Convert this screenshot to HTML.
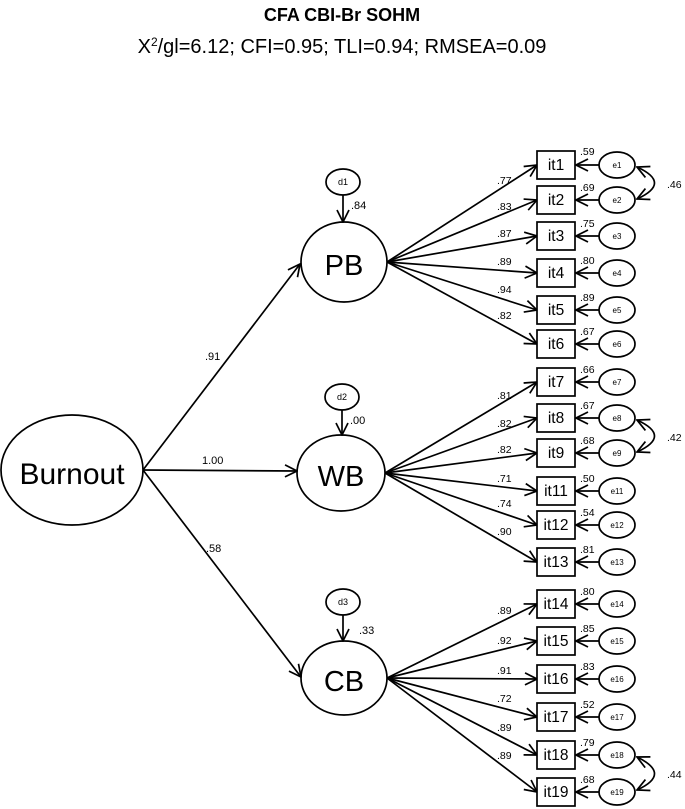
<!DOCTYPE html>
<html><head><meta charset="utf-8"><style>
html,body{margin:0;padding:0;background:#fff;}
svg{display:block;font-family:"Liberation Sans",Arial,sans-serif;}
</style></head><body>
<svg width="685" height="809" viewBox="0 0 685 809" xmlns="http://www.w3.org/2000/svg">
<defs>
<marker id="a" viewBox="0 0 14 14" refX="13" refY="7" markerWidth="14" markerHeight="14" markerUnits="userSpaceOnUse" orient="auto-start-reverse">
<path d="M1,1 L13,7 L1,13" fill="none" stroke="#000" stroke-width="1.7"/>
</marker>
</defs>
<text x="342" y="21" text-anchor="middle" font-size="18" font-weight="bold">CFA CBI-Br SOHM</text>
<text x="342" y="53" text-anchor="middle" font-size="20">X<tspan font-size="12" dy="-7">2</tspan><tspan dy="7">/gl=6.12; CFI=0.95; TLI=0.94; RMSEA=0.09</tspan></text>

<g fill="none" stroke="#000" stroke-width="1.7">
<ellipse cx="72" cy="470" rx="71" ry="55"/>
<ellipse cx="344" cy="262" rx="43" ry="40"/>
<ellipse cx="341" cy="473" rx="44" ry="38"/>
<ellipse cx="344" cy="678" rx="43" ry="37"/>
<ellipse cx="343" cy="182" rx="17" ry="13"/>
<ellipse cx="342" cy="397" rx="17" ry="13"/>
<ellipse cx="343" cy="602" rx="17" ry="13"/>
</g>
<g stroke="#000" stroke-width="1.7" fill="none" marker-end="url(#a)">
<line x1="143" y1="470" x2="300" y2="264"/>
<line x1="143" y1="470" x2="297" y2="471"/>
<line x1="143" y1="470" x2="301" y2="677"/>
<line x1="343" y1="195" x2="343" y2="222"/>
<line x1="342" y1="410" x2="342" y2="435"/>
<line x1="343" y1="615" x2="343" y2="641"/>
</g>
<g text-anchor="middle">
<text x="72" y="484" font-size="30">Burnout</text>
<text x="344" y="275" font-size="29">PB</text>
<text x="341" y="486" font-size="29">WB</text>
<text x="344" y="691" font-size="29">CB</text>
</g>
<g font-size="9" text-anchor="middle">
<text x="343" y="185">d1</text><text x="342" y="400">d2</text><text x="343" y="605">d3</text>
</g>
<g font-size="11">
<text x="351" y="209">.84</text><text x="350" y="424">.00</text><text x="359" y="634">.33</text>
<text x="205" y="360">.91</text><text x="202" y="464">1.00</text><text x="206" y="552">.58</text>
</g>

<g stroke="#000" stroke-width="1.7" fill="none" marker-end="url(#a)">
<line x1="387" y1="262" x2="537" y2="165"/><line x1="387" y1="262" x2="537" y2="200"/>
<line x1="387" y1="262" x2="537" y2="236"/><line x1="387" y1="262" x2="537" y2="273"/>
<line x1="387" y1="262" x2="537" y2="310"/><line x1="387" y1="262" x2="537" y2="344"/>
<line x1="385" y1="473" x2="537" y2="382"/><line x1="385" y1="473" x2="537" y2="418"/>
<line x1="385" y1="473" x2="537" y2="453"/><line x1="385" y1="473" x2="537" y2="491"/>
<line x1="385" y1="473" x2="537" y2="525"/><line x1="385" y1="473" x2="537" y2="562"/>
<line x1="387" y1="678" x2="537" y2="604"/><line x1="387" y1="678" x2="537" y2="641"/>
<line x1="387" y1="678" x2="537" y2="679"/><line x1="387" y1="678" x2="537" y2="717"/>
<line x1="387" y1="678" x2="537" y2="755"/><line x1="387" y1="678" x2="537" y2="792"/>
<line x1="599" y1="165" x2="576" y2="165"/><line x1="599" y1="200" x2="576" y2="200"/>
<line x1="599" y1="236" x2="576" y2="236"/><line x1="599" y1="273" x2="576" y2="273"/>
<line x1="599" y1="310" x2="576" y2="310"/><line x1="599" y1="344" x2="576" y2="344"/>
<line x1="599" y1="382" x2="576" y2="382"/><line x1="599" y1="418" x2="576" y2="418"/>
<line x1="599" y1="453" x2="576" y2="453"/><line x1="599" y1="491" x2="576" y2="491"/>
<line x1="599" y1="525" x2="576" y2="525"/><line x1="599" y1="562" x2="576" y2="562"/>
<line x1="599" y1="604" x2="576" y2="604"/><line x1="599" y1="641" x2="576" y2="641"/>
<line x1="599" y1="679" x2="576" y2="679"/><line x1="599" y1="717" x2="576" y2="717"/>
<line x1="599" y1="755" x2="576" y2="755"/><line x1="599" y1="792" x2="576" y2="792"/>
<path d="M637,167 Q672,183 637,199" marker-start="url(#a)"/>
<path d="M637,420 Q672,436 637,452" marker-start="url(#a)"/>
<path d="M637,757 Q672,774 637,790" marker-start="url(#a)"/>
</g>

<g fill="#fff" stroke="#000" stroke-width="1.7">
<rect x="537" y="151" width="38" height="28"/><rect x="537" y="186" width="38" height="28"/>
<rect x="537" y="222" width="38" height="28"/><rect x="537" y="259" width="38" height="28"/>
<rect x="537" y="296" width="38" height="28"/><rect x="537" y="330" width="38" height="28"/>
<rect x="537" y="368" width="38" height="28"/><rect x="537" y="404" width="38" height="28"/>
<rect x="537" y="439" width="38" height="28"/><rect x="537" y="477" width="38" height="28"/>
<rect x="537" y="511" width="38" height="28"/><rect x="537" y="548" width="38" height="28"/>
<rect x="537" y="590" width="38" height="28"/><rect x="537" y="627" width="38" height="28"/>
<rect x="537" y="665" width="38" height="28"/><rect x="537" y="703" width="38" height="28"/>
<rect x="537" y="741" width="38" height="28"/><rect x="537" y="778" width="38" height="28"/>
</g>
<g fill="none" stroke="#000" stroke-width="1.7">
<ellipse cx="617" cy="165" rx="18" ry="13"/><ellipse cx="617" cy="200" rx="18" ry="13"/>
<ellipse cx="617" cy="236" rx="18" ry="13"/><ellipse cx="617" cy="273" rx="18" ry="13"/>
<ellipse cx="617" cy="310" rx="18" ry="13"/><ellipse cx="617" cy="344" rx="18" ry="13"/>
<ellipse cx="617" cy="382" rx="18" ry="13"/><ellipse cx="617" cy="418" rx="18" ry="13"/>
<ellipse cx="617" cy="453" rx="18" ry="13"/><ellipse cx="617" cy="491" rx="18" ry="13"/>
<ellipse cx="617" cy="525" rx="18" ry="13"/><ellipse cx="617" cy="562" rx="18" ry="13"/>
<ellipse cx="617" cy="604" rx="18" ry="13"/><ellipse cx="617" cy="641" rx="18" ry="13"/>
<ellipse cx="617" cy="679" rx="18" ry="13"/><ellipse cx="617" cy="717" rx="18" ry="13"/>
<ellipse cx="617" cy="755" rx="18" ry="13"/><ellipse cx="617" cy="792" rx="18" ry="13"/>
</g>
<g font-size="15.5" text-anchor="middle">
<text x="556" y="170">it1</text><text x="556" y="205">it2</text><text x="556" y="241">it3</text>
<text x="556" y="278">it4</text><text x="556" y="315">it5</text><text x="556" y="349">it6</text>
<text x="556" y="387">it7</text><text x="556" y="423">it8</text><text x="556" y="458">it9</text>
<text x="556" y="496">it11</text><text x="556" y="530">it12</text><text x="556" y="567">it13</text>
<text x="556" y="609">it14</text><text x="556" y="646">it15</text><text x="556" y="684">it16</text>
<text x="556" y="722">it17</text><text x="556" y="760">it18</text><text x="556" y="797">it19</text>
</g>
<g font-size="8" text-anchor="middle">
<text x="617" y="168">e1</text><text x="617" y="203">e2</text><text x="617" y="239">e3</text>
<text x="617" y="276">e4</text><text x="617" y="313">e5</text><text x="617" y="347">e6</text>
<text x="617" y="385">e7</text><text x="617" y="421">e8</text><text x="617" y="456">e9</text>
<text x="617" y="494">e11</text><text x="617" y="528">e12</text><text x="617" y="565">e13</text>
<text x="617" y="607">e14</text><text x="617" y="644">e15</text><text x="617" y="682">e16</text>
<text x="617" y="720">e17</text><text x="617" y="758">e18</text><text x="617" y="795">e19</text>
</g>
<g font-size="10.5">
<text x="497" y="184">.77</text><text x="497" y="210">.83</text><text x="497" y="237">.87</text>
<text x="497" y="265">.89</text><text x="497" y="293">.94</text><text x="497" y="319">.82</text>
<text x="497" y="399">.81</text><text x="497" y="427">.82</text><text x="497" y="453">.82</text>
<text x="497" y="482">.71</text><text x="497" y="507">.74</text><text x="497" y="535">.90</text>
<text x="497" y="614">.89</text><text x="497" y="644">.92</text><text x="497" y="674">.91</text>
<text x="497" y="702">.72</text><text x="497" y="731">.89</text><text x="497" y="759">.89</text>
</g>
<g font-size="10.5">
<text x="580" y="155">.59</text><text x="580" y="191">.69</text><text x="580" y="227">.75</text>
<text x="580" y="264">.80</text><text x="580" y="301">.89</text><text x="580" y="335">.67</text>
<text x="580" y="373">.66</text><text x="580" y="409">.67</text><text x="580" y="444">.68</text>
<text x="580" y="482">.50</text><text x="580" y="516">.54</text><text x="580" y="553">.81</text>
<text x="580" y="595">.80</text><text x="580" y="632">.85</text><text x="580" y="670">.83</text>
<text x="580" y="708">.52</text><text x="580" y="746">.79</text><text x="580" y="783">.68</text>
</g>
<g font-size="10.5">
<text x="667" y="188">.46</text><text x="667" y="441">.42</text><text x="667" y="778">.44</text>
</g>
</svg>
</body></html>
